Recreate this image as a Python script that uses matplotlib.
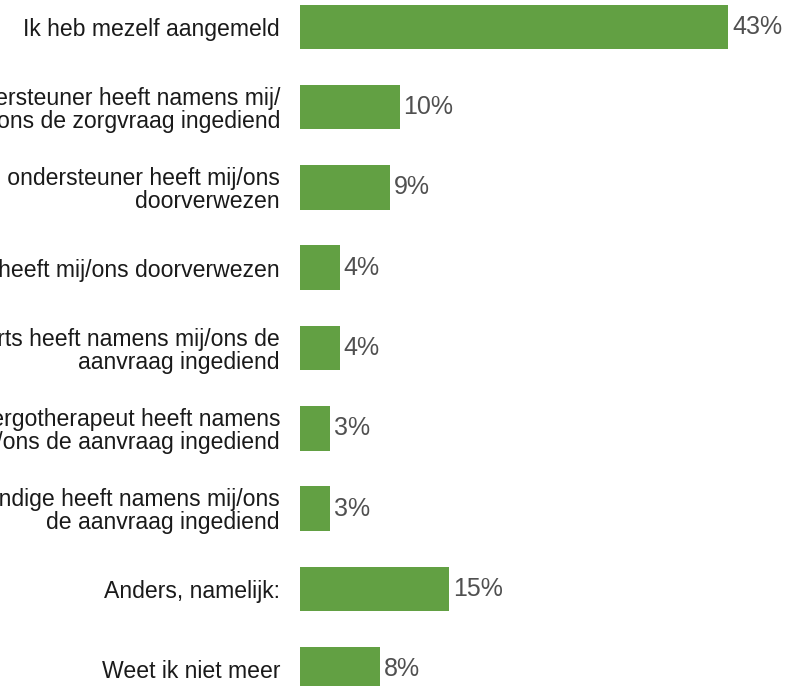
import matplotlib.pyplot as plt

labels = [
    "Ik heb mezelf aangemeld",
    "Een cliëntondersteuner heeft namens mij/\nons de zorgvraag ingediend",
    "Een andere ondersteuner heeft mij/ons\ndoorverwezen",
    "Mijn huisarts heeft mij/ons doorverwezen",
    "Mijn huisarts heeft namens mij/ons de\naanvraag ingediend",
    "Een ergotherapeut heeft namens\nmij/ons de aanvraag ingediend",
    "Een deskundige heeft namens mij/ons\nde aanvraag ingediend",
    "Anders, namelijk:",
    "Weet ik niet meer",
]
values = [43, 10, 9, 4, 4, 3, 3, 15, 8]

plt.rcParams["font.family"] = ["Liberation Sans", "DejaVu Sans"]

fig = plt.figure(figsize=(7.85, 6.86), dpi=100)
ax = fig.add_axes([300 / 785, 0, 485 / 785, 1])

pos = list(range(len(values)))
ax.barh(pos, values, height=0.554, color="#62a043")

# percentage next to each bar
for y, v in zip(pos, values):
    ax.text(v + 0.4, y, f"{v}%", va="center", ha="left", fontsize=18, color="#505050")

ax.set_xlim(0, 48.7)
ax.set_ylim(8.209, -0.334)
ax.set_yticks(pos)
ax.set_yticklabels(labels, fontsize=16.6, color="#1a1a1a")
for t in ax.get_yticklabels():
    t.set_linespacing(1.0)
ax.tick_params(axis="y", length=0, pad=14.4)
ax.set_xticks([])
for s in ax.spines.values():
    s.set_visible(False)

fig.savefig("out.png", dpi=100)
